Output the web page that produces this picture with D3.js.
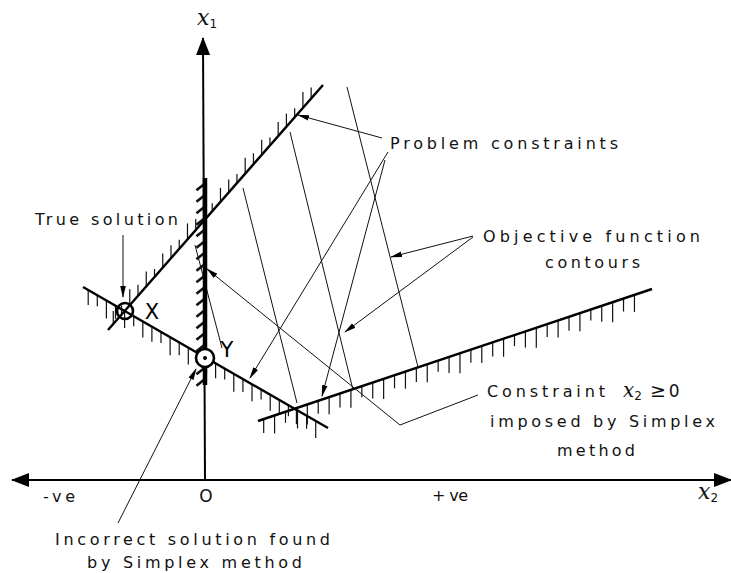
<!DOCTYPE html>
<html>
<head>
<meta charset="utf-8">
<script src="https://cdn.jsdelivr.net/npm/d3@7"></script>
<style>
body { margin: 0; background: #fff; }
svg { display: block; }
text { font-family: "DejaVu Sans", sans-serif; fill: #111; }
</style>
</head>
<body>
<svg id="chart" width="731" height="573"></svg>
<script>
// data space: x2 runs across, x1 runs up
const x2Domain = [-19.3, 52.6]
const x1Domain = [0, 44.2]

// constraint boundaries, [x2, x1] end points
const constraintUpper = [[-9.7, 15.0], [11.8, 39.5]]
const constraintLower = [[-12.2, 19.3], [12.3, 5.2]]
const constraintRight = [[5.3, 5.9], [44.7, 19.1]]
const simplexBound = [[0, 9.5], [0, 30.2]]

// objective function contours
const contours = [
	[[-1.0, 23.5], [1.7, 13.2]],
	[[3.8, 29.2], [9.2, 7.7]],
	[[8.5, 34.8], [14.8, 9.0]],
	[[14.2, 39.3], [21.3, 11.3]]
]

// leader lines from labels, arrow at last point
const leaders = [
	[[17.7, 34.2], [9.3, 36.5]],
	[[18.3, 32.8], [4.5, 10.2]],
	[[18.0, 32.0], [11.7, 8.4]],
	[[26.8, 24.4], [18.6, 22.3]],
	[[26.8, 24.3], [14.0, 14.8]],
	[[27.3, 8.5], [19.5, 5.5], [0.2, 21.1]],
	[[-8.2, 24.5], [-8.2, 18.3]],
	[[-8.7, -4.3], [-0.9, 11.1]]
]

const trueSolution = [-8.0, 16.9]
const simplexSolution = [0, 12.2]

// labels: text, x2, x1 (baseline start), width in px
const labels = [
	['Problem constraints', 18.5, 33.1, 228],
	['Objective function', 27.8, 23.8, 217],
	['contours', 34.0, 21.2, 95],
	['True solution', -17.0, 25.5, 143],
	['Constraint', 28.2, 8.3, 118],
	['imposed by Simplex', 28.5, 5.3, 225],
	['method', 35.2, 2.4, 78],
	['Incorrect solution found', -15.0, -6.5, 275],
	['by Simplex method', -11.8, -8.8, 215],
	['-ve', -16.2, -2.2, 32],
	['+ ve', 22.7, -2.1, 36]
]

const width = 731
const height = 573

const x = d3.scaleLinear().domain(x2Domain).range([12, 731])
const y = d3.scaleLinear().domain(x1Domain).range([480, 38])

const svg = d3.select('#chart')
const defs = svg.append('defs')

defs.append('marker')
	.attr('id', 'big')
	.attr('markerUnits', 'userSpaceOnUse')
	.attr('viewBox', '0 -8 18 16')
	.attr('refX', 17).attr('refY', 0)
	.attr('markerWidth', 18).attr('markerHeight', 16)
	.attr('orient', 'auto-start-reverse')
	.append('path').attr('d', 'M0,-7L18,0L0,7Z').attr('fill', '#000')

defs.append('marker')
	.attr('id', 'small')
	.attr('markerUnits', 'userSpaceOnUse')
	.attr('viewBox', '0 -4 12 8')
	.attr('refX', 11).attr('refY', 0)
	.attr('markerWidth', 12).attr('markerHeight', 8)
	.attr('orient', 'auto')
	.append('path').attr('d', 'M0,-2.8L12,0L0,2.8Z').attr('fill', '#000')

const line = d3.line().x(d => x(d[0])).y(d => y(d[1]))

// short hatch ticks along a boundary, in pixel space
function hatch(seg, dir, step, lens, start, stop) {
	const p0 = [x(seg[0][0]), y(seg[0][1])]
	const p1 = [x(seg[1][0]), y(seg[1][1])]
	const L = Math.hypot(p1[0] - p0[0], p1[1] - p0[1])
	const ux = (p1[0] - p0[0]) / L
	const uy = (p1[1] - p0[1]) / L
	const g = svg.append('g').attr('stroke', '#111').attr('stroke-width', 1.2)
	let k = 0
	for (let t = start; t < L - stop; t += step) {
		const px = p0[0] + ux * t
		const py = p0[1] + uy * t
		const len = lens[k % lens.length]
		g.append('line')
			.attr('x1', px).attr('y1', py)
			.attr('x2', px + dir[0] * len).attr('y2', py + dir[1] * len)
		k++
	}
	return g
}

hatch(constraintUpper, [0, -1], 12.5, [13, 9, 16, 11, 15, 8, 14], 8, 6)
hatch(constraintLower, [0, 1], 10.5, [15, 11, 18, 13, 17, 10, 16], 6, 4)
hatch(constraintRight, [0, 1], 11.5, [14, 18, 11, 16, 20, 13, 17], 6, 10)
hatch(simplexBound, [-0.78, 0.62], 11.5, [11], 6, 4).attr('stroke-width', 2.6)

// axes
svg.append('line')
	.attr('x1', x(x2Domain[0])).attr('y1', y(0))
	.attr('x2', x(x2Domain[1])).attr('y2', y(0))
	.attr('stroke', '#000').attr('stroke-width', 2)
	.attr('marker-start', 'url(#big)')
	.attr('marker-end', 'url(#big)')

svg.append('line')
	.attr('x1', x(0)).attr('y1', y(0))
	.attr('x2', x(-0.2)).attr('y2', y(x1Domain[1]))
	.attr('stroke', '#000').attr('stroke-width', 2)
	.attr('marker-end', 'url(#big)')

// contours
svg.append('g')
	.selectAll('path')
	.data(contours)
	.join('path')
	.attr('d', line)
	.attr('fill', 'none')
	.attr('stroke', '#111')
	.attr('stroke-width', 1)

// constraints
svg.append('g')
	.selectAll('path')
	.data([constraintUpper, constraintLower, constraintRight])
	.join('path')
	.attr('d', line)
	.attr('fill', 'none')
	.attr('stroke', '#000')
	.attr('stroke-width', 2.4)

svg.append('path')
	.attr('d', line(simplexBound))
	.attr('stroke', '#000')
	.attr('stroke-width', 4.5)

// leaders
svg.append('g')
	.selectAll('path')
	.data(leaders)
	.join('path')
	.attr('d', line)
	.attr('fill', 'none')
	.attr('stroke', '#111')
	.attr('stroke-width', 1)
	.attr('marker-end', 'url(#small)')

// solution points
svg.append('circle')
	.attr('cx', x(trueSolution[0])).attr('cy', y(trueSolution[1]))
	.attr('r', 8)
	.attr('fill', 'none').attr('stroke', '#000').attr('stroke-width', 2.6)

svg.append('circle')
	.attr('cx', x(simplexSolution[0])).attr('cy', y(simplexSolution[1]))
	.attr('r', 9)
	.attr('fill', '#fff').attr('stroke', '#000').attr('stroke-width', 2.6)
svg.append('circle')
	.attr('cx', x(simplexSolution[0])).attr('cy', y(simplexSolution[1]))
	.attr('r', 2).attr('fill', '#000')

svg.append('text')
	.attr('x', x(trueSolution[0]) + 27).attr('y', y(trueSolution[1]) + 8)
	.attr('text-anchor', 'middle')
	.style('font-size', '21px').style('fill', '#000')
	.text('X')
svg.append('text')
	.attr('x', x(simplexSolution[0]) + 22).attr('y', y(simplexSolution[1]) - 1)
	.attr('text-anchor', 'middle')
	.style('font-size', '21px').style('fill', '#000')
	.text('Y')

// text labels
svg.append('g')
	.selectAll('text')
	.data(labels)
	.join('text')
	.attr('x', d => x(d[1]))
	.attr('y', d => y(d[2]))
	.attr('textLength', d => d[3])
	.attr('lengthAdjust', 'spacing')
	.style('font-size', '16px')
	.text(d => d[0])

svg.append('text')
	.attr('x', x(0.1)).attr('y', y(-2.2))
	.attr('text-anchor', 'middle')
	.style('font-size', '17px')
	.text('O')

// x2 >= 0 in the constraint label
const cx2 = svg.append('text')
	.attr('x', x(41.8)).attr('y', y(8.3))
	.style('font-size', '16px')
cx2.append('tspan')
	.style('font-family', '"DejaVu Serif", serif').style('font-style', 'italic').style('font-size', '20px')
	.text('x')
cx2.append('tspan').attr('dy', 3).style('font-size', '12px').text('2')
cx2.append('tspan').attr('dy', -3).attr('dx', 8).style('font-size', '19px').text('≥')
cx2.append('tspan').attr('dx', 3).style('font-size', '17px').text('0')

// axis names
function axisName(px, py, sub) {
	const t = svg.append('text')
		.attr('x', px).attr('y', py)
		.attr('text-anchor', 'middle')
	t.append('tspan')
		.style('font-family', '"DejaVu Serif", serif').style('font-style', 'italic').style('font-size', '22px')
		.text('x')
	t.append('tspan').attr('dy', 3).style('font-size', '12px').text(sub)
}
axisName(x(0.2), y(45.5), '1')
axisName(x(50.3), y(-1.9), '2')
</script>
</body>
</html>
